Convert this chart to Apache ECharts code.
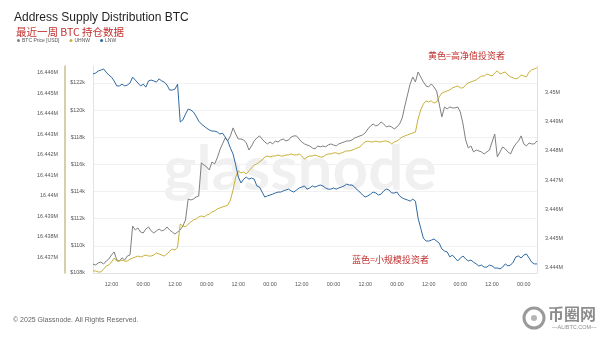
<!DOCTYPE html>
<html>
<head>
<meta charset="utf-8">
<script src="https://cdn.jsdelivr.net/npm/echarts@6/dist/echarts.min.js"></script>
<style>
  html, body { margin: 0; padding: 0; background: #fff; }
  #chart { width: 600px; height: 338px; }
</style>
</head>
<body>
<div id="chart"></div>
<script>
// Hourly BTC price (thousand USD)
const btcPrice = [
  108.66,108.59,108.74,108.81,108.66,108.88,109.03,109.33,109.55,108.96,108.88,109.11,
  108.96,109.25,109.33,111.46,111.17,111.32,111.02,110.95,111.24,111.39,111.10,110.95,
  111.10,111.24,111.10,111.17,111.39,111.17,111.02,110.87,111.02,111.17,111.46,111.91,
  113.45,113.38,113.45,113.60,113.67,116.11,115.96,115.81,115.59,116.18,116.03,116.47,
  117.06,117.51,117.95,117.73,118.10,118.69,118.24,117.87,117.87,117.80,117.58,117.06,
  117.36,117.73,117.95,118.10,117.87,117.65,117.51,117.65,117.51,117.73,117.65,117.80,
  117.87,117.73,117.80,118.02,118.10,118.10,117.87,117.65,117.51,117.43,117.36,117.21,
  117.14,117.36,117.29,117.36,117.29,117.43,117.51,117.43,117.36,117.51,117.58,117.65,
  117.73,117.73,117.80,117.95,118.02,118.10,118.17,118.32,118.61,118.83,118.98,118.83,
  118.91,119.13,118.98,118.76,118.83,118.76,118.61,118.76,118.98,119.42,120.31,121.12,
  121.93,122.44,122.08,122.81,122.44,122.08,121.78,121.71,121.93,121.71,121.41,120.45,
  119.50,120.23,120.09,120.23,120.16,120.16,120.23,119.86,118.98,117.80,117.21,117.36,
  116.92,117.06,116.99,116.92,116.77,116.92,117.06,117.65,118.24,116.55,116.92,117.29,
  117.14,116.92,116.77,117.21,117.51,117.73,118.10,117.51,117.36,117.58,117.51,117.51,
  117.73
];

// Supply held by ultra-high-net-worth addresses (million BTC)
const uhnwSupply = [
  16.43632,16.43632,16.43627,16.43627,16.43641,16.43656,16.43661,16.43676,16.43695,16.43680,16.43680,16.43685,
  16.43680,16.43680,16.43690,16.43695,16.43700,16.43705,16.43700,16.43705,16.43710,16.43705,16.43705,16.43710,
  16.43720,16.43715,16.43710,16.43705,16.43715,16.43729,16.43739,16.43734,16.43749,16.43861,16.43852,16.43847,
  16.43861,16.43871,16.43881,16.43886,16.43896,16.43901,16.43896,16.43905,16.43910,16.43920,16.43925,16.43935,
  16.43940,16.43945,16.43949,16.43954,16.43979,16.44028,16.44091,16.44121,16.44111,16.44116,16.44106,16.44121,
  16.44135,16.44150,16.44155,16.44165,16.44175,16.44189,16.44194,16.44189,16.44194,16.44194,16.44199,16.44194,
  16.44194,16.44199,16.44199,16.44204,16.44199,16.44199,16.44204,16.44194,16.44179,16.44189,16.44194,16.44194,
  16.44199,16.44194,16.44189,16.44189,16.44199,16.44204,16.44204,16.44209,16.44209,16.44204,16.44209,16.44214,
  16.44219,16.44219,16.44223,16.44228,16.44233,16.44238,16.44253,16.44263,16.44267,16.44263,16.44263,16.44267,
  16.44263,16.44263,16.44267,16.44267,16.44263,16.44253,16.44263,16.44267,16.44277,16.44287,16.44292,16.44297,
  16.44302,16.44307,16.44311,16.44375,16.44419,16.44448,16.44463,16.44458,16.44463,16.44453,16.44458,16.44483,
  16.44502,16.44507,16.44512,16.44517,16.44527,16.44532,16.44536,16.44527,16.44527,16.44541,16.44551,16.44556,
  16.44561,16.44566,16.44576,16.44585,16.44585,16.44595,16.44590,16.44585,16.44600,16.44610,16.44595,16.44600,
  16.44605,16.44590,16.44581,16.44576,16.44571,16.44576,16.44590,16.44585,16.44581,16.44605,16.44615,16.44620,
  16.44625
];

// Supply held by low-net-worth addresses (million BTC)
const lnwSupply = [
  3.45062,3.45065,3.45072,3.45075,3.45079,3.45068,3.45058,3.45051,3.45038,3.45021,3.45021,3.45027,
  3.45021,3.45024,3.45031,3.45051,3.45041,3.45031,3.45021,3.45027,3.45017,3.45038,3.45041,3.45038,
  3.45034,3.45045,3.45038,3.45034,3.45024,3.45007,3.45007,3.45010,3.45027,3.44898,3.44905,3.44925,
  3.44942,3.44939,3.44932,3.44918,3.44901,3.44891,3.44884,3.44877,3.44871,3.44867,3.44867,3.44864,
  3.44857,3.44860,3.44847,3.44833,3.44809,3.44789,3.44751,3.44710,3.44690,3.44703,3.44710,3.44703,
  3.44707,3.44703,3.44680,3.44676,3.44659,3.44642,3.44646,3.44649,3.44652,3.44656,3.44659,3.44659,
  3.44663,3.44666,3.44669,3.44663,3.44659,3.44666,3.44673,3.44676,3.44680,3.44669,3.44673,3.44680,
  3.44676,3.44680,3.44683,3.44680,3.44673,3.44669,3.44669,3.44673,3.44669,3.44673,3.44676,3.44680,
  3.44686,3.44683,3.44683,3.44676,3.44666,3.44659,3.44649,3.44642,3.44646,3.44652,3.44659,3.44656,
  3.44649,3.44652,3.44663,3.44669,3.44666,3.44656,3.44656,3.44659,3.44646,3.44639,3.44635,3.44632,
  3.44628,3.44635,3.44628,3.44570,3.44536,3.44502,3.44492,3.44492,3.44495,3.44499,3.44492,3.44485,
  3.44465,3.44458,3.44455,3.44438,3.44444,3.44434,3.44424,3.44434,3.44441,3.44431,3.44424,3.44427,
  3.44420,3.44414,3.44407,3.44410,3.44403,3.44403,3.44410,3.44407,3.44400,3.44400,3.44397,3.44403,
  3.44414,3.44407,3.44410,3.44420,3.44438,3.44441,3.44434,3.44444,3.44448,3.44434,3.44420,3.44414,
  3.44414
];

// Axis tick values
const priceTicks = [108, 110, 112, 114, 116, 118, 120, 122];
const uhnwTicks = [16.437, 16.438, 16.439, 16.44, 16.441, 16.442, 16.443, 16.444, 16.445, 16.446];
const lnwTicks = [3.444, 3.445, 3.446, 3.447, 3.448, 3.449, 3.45];

// Hourly timestamps (UTC), first sample 2025-07-09 05:00
const firstHour = Date.UTC(2025, 6, 9, 5);
const hours = btcPrice.map((_, i) =>
  new Date(firstHour + i * 3600e3).toISOString().slice(5, 16).replace('T', ' '));

const seriesNames = ['BTC Price [USD]', 'UHNW', 'LNW'];
const seriesColors = ['#808080', '#c8b03a', '#2f69a3'];

const trimM = v => (+v.toFixed(3)) + 'M';
const axisFont = { fontFamily: 'Liberation Sans, Arial, sans-serif', fontSize: 5.4, color: '#555' };

const chart = echarts.init(document.getElementById('chart'), null, { renderer: 'canvas' });
chart.setOption({
  animation: false,
  backgroundColor: '#ffffff',
  color: seriesColors,
  title: {
    text: 'Address Supply Distribution BTC',
    left: 14, top: 12, padding: 0,
    textStyle: { fontFamily: 'Liberation Sans, Arial, sans-serif', fontSize: 12, fontWeight: 'normal', color: '#1f1f1f' }
  },
  legend: {
    data: seriesNames,
    left: 17, top: 38, padding: 0,
    icon: 'circle', itemWidth: 3, itemHeight: 3, itemGap: 10,
    textStyle: { fontFamily: 'Liberation Sans, Arial, sans-serif', fontSize: 5, color: '#555', padding: [0, 0, 0, -3] }
  },
  grid: { left: 93, right: 63, top: 66, bottom: 65, containLabel: false },
  xAxis: {
    type: 'category',
    data: hours,
    boundaryGap: false,
    axisLine: { lineStyle: { color: '#e2e2e2' } },
    axisTick: { show: false },
    axisLabel: Object.assign({
      interval: (idx) => idx % 12 === 7,
      formatter: v => v.slice(-5),
      margin: 9
    }, axisFont),
    splitLine: { show: false }
  },
  yAxis: [
    {
      type: 'value', position: 'left', offset: 0,
      min: 108, max: 123.25, interval: 2,
      axisLine: { show: true, lineStyle: { color: '#e2e2e2' } },
      axisTick: { show: false },
      axisLabel: Object.assign({ margin: 8, showMaxLabel: false, formatter: v => '$' + v + 'k' }, axisFont),
      splitLine: { show: true, showMaxLine: false, lineStyle: { color: '#f1f1f1' } }
    },
    {
      type: 'value', position: 'left', offset: 28,
      min: 16.43622, max: 16.44634,
      axisLine: { show: true, lineStyle: { color: '#c9c08e', width: 1.5 } },
      axisTick: { show: false, customValues: uhnwTicks },
      axisLabel: Object.assign({ margin: 7, customValues: uhnwTicks, formatter: trimM }, axisFont),
      splitLine: { show: false }
    },
    {
      type: 'value', position: 'right', offset: 0,
      min: 3.44383, max: 3.45089,
      axisLine: { show: true, lineStyle: { color: '#dedede' } },
      axisTick: { show: false, customValues: lnwTicks },
      axisLabel: Object.assign({ margin: 8, customValues: lnwTicks, formatter: trimM }, axisFont),
      splitLine: { show: false }
    }
  ],
  series: [
    { name: seriesNames[0], type: 'line', yAxisIndex: 0, data: btcPrice, showSymbol: false, lineStyle: { width: 1 }, z: 3 },
    { name: seriesNames[1], type: 'line', yAxisIndex: 1, data: uhnwSupply, showSymbol: false, lineStyle: { width: 1 }, z: 4 },
    { name: seriesNames[2], type: 'line', yAxisIndex: 2, data: lnwSupply, showSymbol: false, lineStyle: { width: 1 }, z: 5 }
  ],
  graphic: [
    { type: 'text', x: 300, y: 170, z: -10, silent: true,
      style: { text: 'glassnode', align: 'center', verticalAlign: 'middle',
               font: 'bold 62px Lato, sans-serif', fill: 'rgba(0,0,0,0.06)' } },
    { type: 'text', x: 16, y: 27, style: { text: '最近一周 BTC 持仓数据', font: '10.5px "Noto Sans CJK SC", sans-serif', fill: '#c0302e' } },
    { type: 'text', x: 428, y: 51, style: { text: '黄色=高净值投资者', font: '9px "Noto Sans CJK SC", sans-serif', fill: '#c0302e' } },
    { type: 'text', x: 352, y: 255, style: { text: '蓝色=小规模投资者', font: '9px "Noto Sans CJK SC", sans-serif', fill: '#c0302e' } },
    { type: 'text', x: 13, y: 317, style: { text: '© 2025 Glassnode. All Rights Reserved.', font: '7px "Liberation Sans", Arial, sans-serif', fill: '#666' } },
    { type: 'circle', shape: { cx: 534, cy: 318, r: 10 }, style: { fill: 'none', stroke: '#9a9a9a', lineWidth: 3 } },
    { type: 'circle', shape: { cx: 534, cy: 318, r: 3 }, style: { fill: '#b5b5b5' } },
    { type: 'text', x: 548, y: 306, style: { text: '币圈网', font: 'bold 16px "Noto Sans CJK SC", sans-serif', fill: '#8c8c8c' } },
    { type: 'text', x: 552, y: 324, style: { text: '—ALIBTC.COM—', font: '5.5px "Liberation Sans", Arial, sans-serif', fill: '#8c8c8c' } }
  ]
});
</script>
</body>
</html>
